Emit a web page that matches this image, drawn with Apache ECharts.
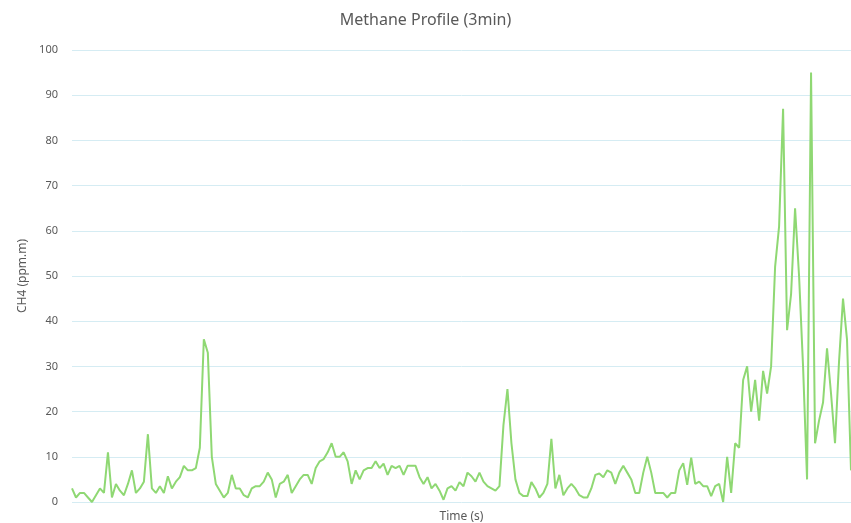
<!DOCTYPE html>
<html>
<head>
<meta charset="utf-8">
<script src="https://cdn.jsdelivr.net/npm/echarts@6/dist/echarts.min.js"></script>
<style>
  html, body { margin: 0; padding: 0; background: #fff; }
  #chart { width: 851px; height: 523px; }
</style>
</head>
<body>
<div id="chart"></div>
<script>
// CH4 readings over the 3 minute run
const ch4 = [
  3, 1, 2, 2, 1, 0, 1.5, 3, 2, 11,
  1, 4, 2.5, 1.5, 4, 7, 2, 3, 4.5, 15,
  3, 2, 3.5, 2, 5.7, 3, 4.5, 5.5, 8, 7,
  7, 7.5, 12, 36, 33, 10, 4, 2.5, 1, 2,
  6, 3, 3, 1.5, 1, 3, 3.5, 3.5, 4.5, 6.5,
  5, 1, 4, 4.5, 6, 2, 3.5, 5, 6, 6,
  4, 7.5, 9, 9.5, 11, 13, 10, 10, 11, 9,
  4, 7, 5, 7, 7.5, 7.5, 9, 7.5, 8.5, 6,
  8, 7.5, 8, 6, 8, 8, 8, 5.5, 4, 5.5,
  3, 4, 2.5, 0.5, 3, 3.5, 2.5, 4.4, 3.5, 6.5,
  5.7, 4.5, 6.5, 4.5, 3.5, 3, 2.5, 3.5, 17, 25,
  13, 5, 2, 1.3, 1.3, 4.4, 3, 1, 2, 4,
  14, 3, 6, 1.5, 3, 4, 3, 1.5, 1, 1,
  3, 6, 6.3, 5.5, 7, 6.5, 4, 6.5, 8, 6.5,
  5, 2, 2, 6.5, 10, 6.5, 2, 2, 2, 1,
  2, 2, 7, 8.6, 3.8, 9.8, 4, 4.5, 3.5, 3.5,
  1.3, 3.5, 4, 0, 10, 2, 13, 12, 27, 30,
  20, 27, 18, 29, 24, 30, 52, 61, 87, 38,
  46, 65, 50, 30, 5, 95, 13, 18, 22, 34,
  24, 13, 31, 45, 36, 7
]
const times = ch4.map((v, i) => i + 1)
const yTicks = { min: 0, max: 100, interval: 10 }

const chart = echarts.init(document.getElementById('chart'))

const option = {
  animation: false,
  title: {
    text: 'Methane Profile (3min)',
    left: 'center',
    top: 7,
    textStyle: {
      color: '#595959',
      fontSize: 16,
      fontWeight: 'normal',
      fontFamily: 'Noto Sans'
    }
  },
  grid: {
    left: 72,
    right: 0,
    top: 50,
    bottom: 21,
    outerBoundsMode: 'none'
  },
  xAxis: {
    type: 'category',
    boundaryGap: false,
    data: times,
    name: 'Time (s)',
    nameLocation: 'middle',
    nameGap: 9,
    nameTextStyle: { color: '#595959', fontSize: 12, fontFamily: 'Noto Sans' },
    axisLine: { show: false },
    axisTick: { show: false },
    axisLabel: { show: false },
    splitLine: { show: false }
  },
  yAxis: {
    type: 'value',
    min: yTicks.min,
    max: yTicks.max,
    interval: yTicks.interval,
    name: 'CH4 (ppm.m)',
    nameLocation: 'middle',
    nameRotate: 90,
    nameGap: 43,
    nameTextStyle: { color: '#595959', fontSize: 12, fontFamily: 'Noto Sans' },
    axisLine: { show: false },
    axisTick: { show: false },
    axisLabel: {
      color: '#595959',
      fontSize: 11,
      fontFamily: 'Noto Sans',
      margin: 14
    },
    splitLine: {
      show: true,
      lineStyle: { color: '#d5ecf3', width: 1 }
    }
  },
  series: [
    {
      name: 'CH4',
      type: 'line',
      data: ch4,
      showSymbol: false,
      lineStyle: { color: '#8fd873', width: 2 },
      itemStyle: { color: '#8fd873' }
    }
  ]
}

chart.setOption(option)
</script>
</body>
</html>
